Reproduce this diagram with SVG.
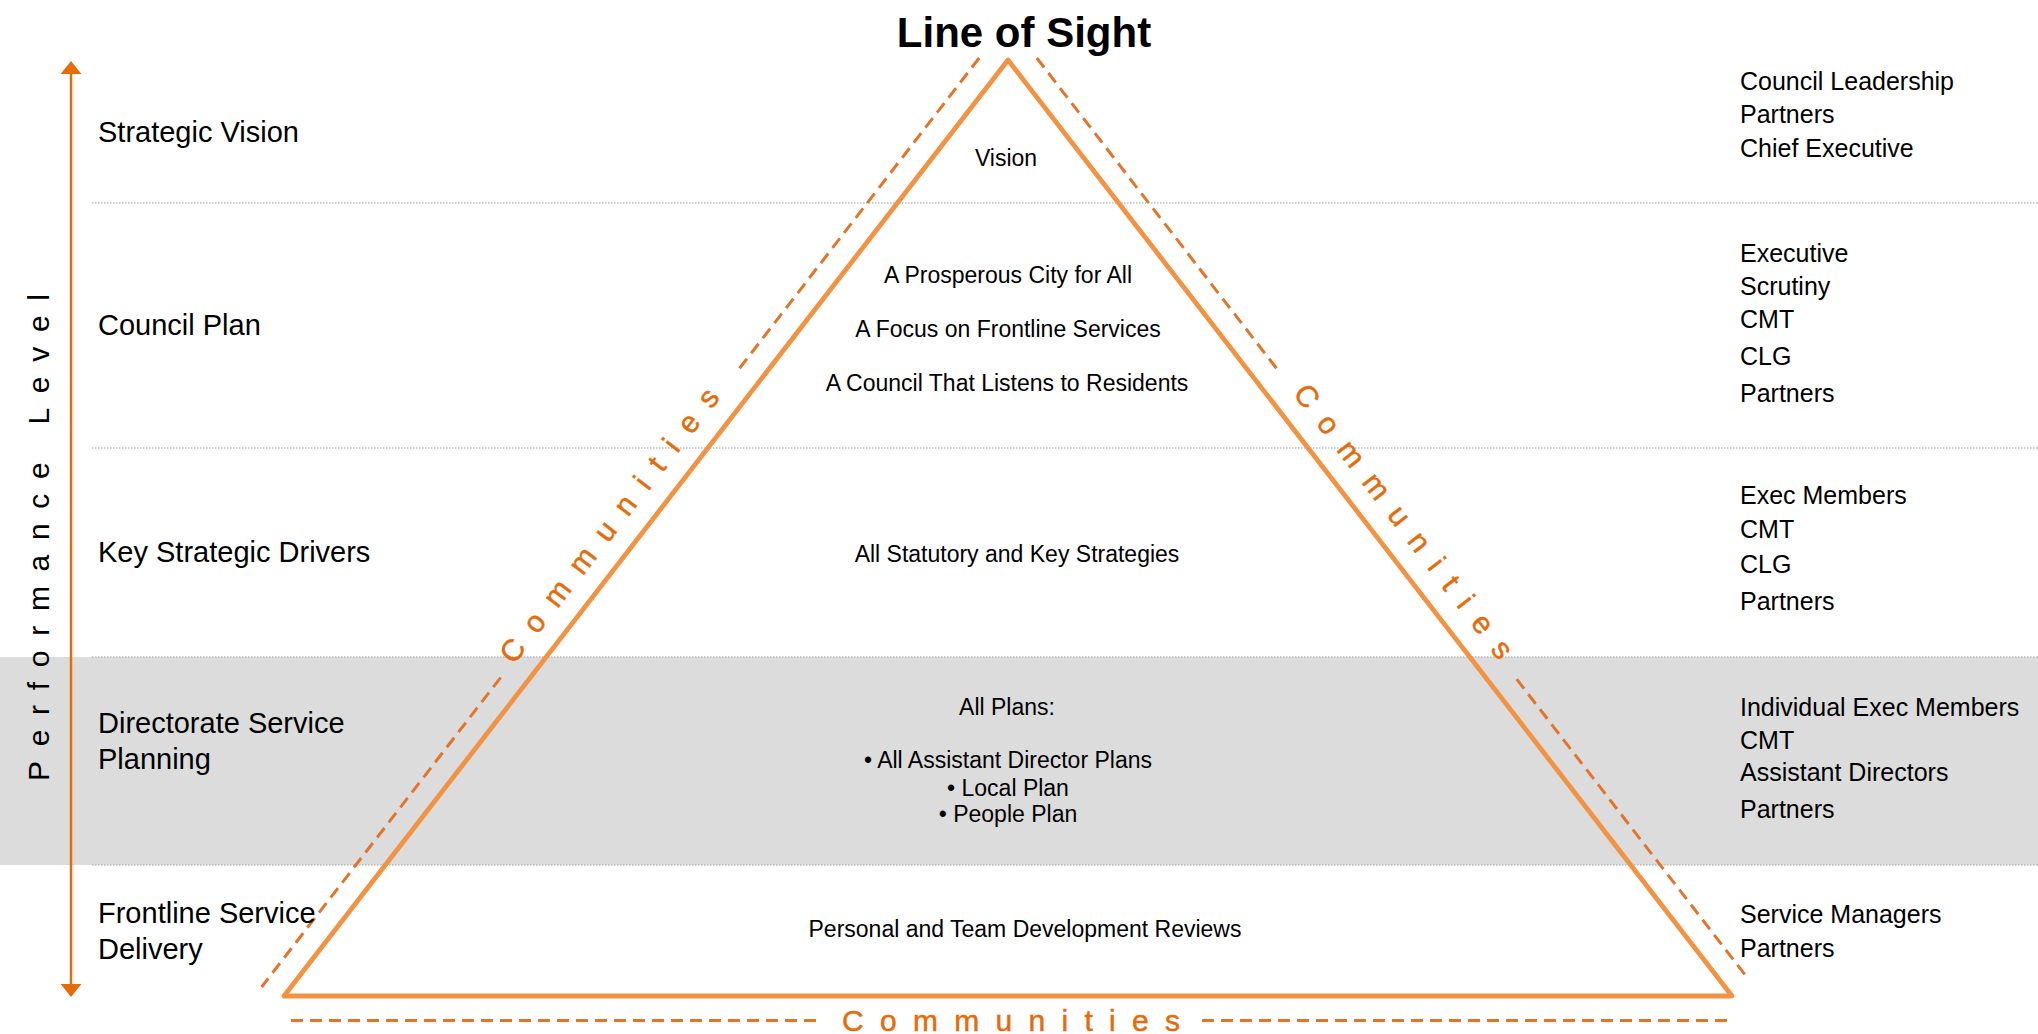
<svg xmlns="http://www.w3.org/2000/svg" width="2038" height="1034" viewBox="0 0 2038 1034">
  <style>
    text { font-family: "Liberation Sans", Arial, sans-serif; fill: #000; }
    .title { font-size: 42px; font-weight: bold; text-anchor: middle; }
    .lvl { font-size: 29px; }
    .ctr { font-size: 23px; text-anchor: middle; }
    .who { font-size: 25px; }
    .comm { font-size: 30px; letter-spacing: 16.3px; fill: #E46C0A; stroke: #E46C0A; stroke-width: 0.5; }
    .perf { font-size: 30px; letter-spacing: 14.7px; fill: #000; }
    .divider { stroke: #BDBDBD; stroke-width: 1.5; stroke-dasharray: 1.5 1.5; fill: none; }
    .dash { stroke: #E2752A; stroke-width: 3; stroke-dasharray: 12 7; fill: none; }
    .tri { stroke: #F29343; stroke-width: 4.8; fill: none; stroke-linejoin: round; }
    .axis { stroke: #E46C0A; stroke-width: 2.5; fill: none; }
  </style>
  <defs>
    <marker id="head" viewBox="0 0 13 21" markerUnits="userSpaceOnUse" markerWidth="13" markerHeight="21" refX="7" refY="10.5" orient="auto-start-reverse">
      <path d="M0,0 L13,10.5 L0,21 z" fill="#E46C0A"/>
    </marker>
  </defs>

  <rect width="2038" height="1034" fill="#FFFFFF"/>

  <g id="bands">
    <rect x="0" y="657" width="2038" height="208" fill="#DCDCDC"/>
    <line class="divider" x1="92" y1="203" x2="2038" y2="203"/>
    <line class="divider" x1="92" y1="448" x2="2038" y2="448"/>
    <line class="divider" x1="92" y1="657" x2="2038" y2="657"/>
    <line class="divider" x1="92" y1="865" x2="2038" y2="865"/>
  </g>

  <text id="title" class="title" x="1024" y="47">Line of Sight</text>

  <g id="pyramid">
    <path class="tri" d="M1008,60 L284,996 L1732,996 Z"/>
  </g>

  <g id="communities">
    <line class="dash" x1="979.2" y1="58" x2="738.4" y2="369.8"/>
    <line class="dash" x1="500.6" y1="677.6" x2="261.6" y2="987"/>
    <line class="dash" x1="1036.8" y1="58" x2="1277.6" y2="369.8"/>
    <line class="dash" x1="1516.7" y1="679.2" x2="1746" y2="976"/>
    <line class="dash" x1="291" y1="1020.5" x2="817" y2="1020.5"/>
    <line class="dash" x1="1202" y1="1020.5" x2="1728" y2="1020.5"/>
    <text class="comm" transform="translate(514,665.3) rotate(-52.3)">Communities</text>
    <text class="comm" transform="translate(1292.3,393.8) rotate(52.3)">Communities</text>
    <text class="comm" x="842" y="1031">Communities</text>
  </g>

  <g id="connectors">
    <line class="axis" x1="71" y1="67" x2="71" y2="991" marker-start="url(#head)" marker-end="url(#head)"/>
  </g>
  <text id="performance-level" class="perf" transform="translate(49,781) rotate(-90)">Performance Level</text>

  <g id="row-strategic-vision">
    <text class="lvl" x="98" y="142">Strategic Vision</text>
    <text class="ctr" x="1006" y="166">Vision</text>
    <text class="who" x="1740" y="90">Council Leadership</text>
    <text class="who" x="1740" y="123">Partners</text>
    <text class="who" x="1740" y="157">Chief Executive</text>
  </g>

  <g id="row-council-plan">
    <text class="lvl" x="98" y="335">Council Plan</text>
    <text class="ctr" x="1008" y="283">A Prosperous City for All</text>
    <text class="ctr" x="1008" y="337">A Focus on Frontline Services</text>
    <text class="ctr" x="1007" y="391">A Council That Listens to Residents</text>
    <text class="who" x="1740" y="262">Executive</text>
    <text class="who" x="1740" y="295">Scrutiny</text>
    <text class="who" x="1740" y="328">CMT</text>
    <text class="who" x="1740" y="365">CLG</text>
    <text class="who" x="1740" y="402">Partners</text>
  </g>

  <g id="row-key-strategic-drivers">
    <text class="lvl" x="98" y="562">Key Strategic Drivers</text>
    <text class="ctr" x="1017" y="562">All Statutory and Key Strategies</text>
    <text class="who" x="1740" y="504">Exec Members</text>
    <text class="who" x="1740" y="538">CMT</text>
    <text class="who" x="1740" y="573">CLG</text>
    <text class="who" x="1740" y="610">Partners</text>
  </g>

  <g id="row-directorate-service-planning">
    <text class="lvl" x="98" y="733">Directorate Service</text>
    <text class="lvl" x="98" y="769">Planning</text>
    <text class="ctr" x="1007" y="715">All Plans:</text>
    <text class="ctr" x="1008" y="768">• All Assistant Director Plans</text>
    <text class="ctr" x="1008" y="796">• Local Plan</text>
    <text class="ctr" x="1008" y="822">• People Plan</text>
    <text class="who" x="1740" y="716">Individual Exec Members</text>
    <text class="who" x="1740" y="749">CMT</text>
    <text class="who" x="1740" y="781">Assistant Directors</text>
    <text class="who" x="1740" y="818">Partners</text>
  </g>

  <g id="row-frontline-service-delivery">
    <text class="lvl" x="98" y="923">Frontline Service</text>
    <text class="lvl" x="98" y="959">Delivery</text>
    <text class="ctr" x="1025" y="937">Personal and Team Development Reviews</text>
    <text class="who" x="1740" y="923">Service Managers</text>
    <text class="who" x="1740" y="957">Partners</text>
  </g>
</svg>
